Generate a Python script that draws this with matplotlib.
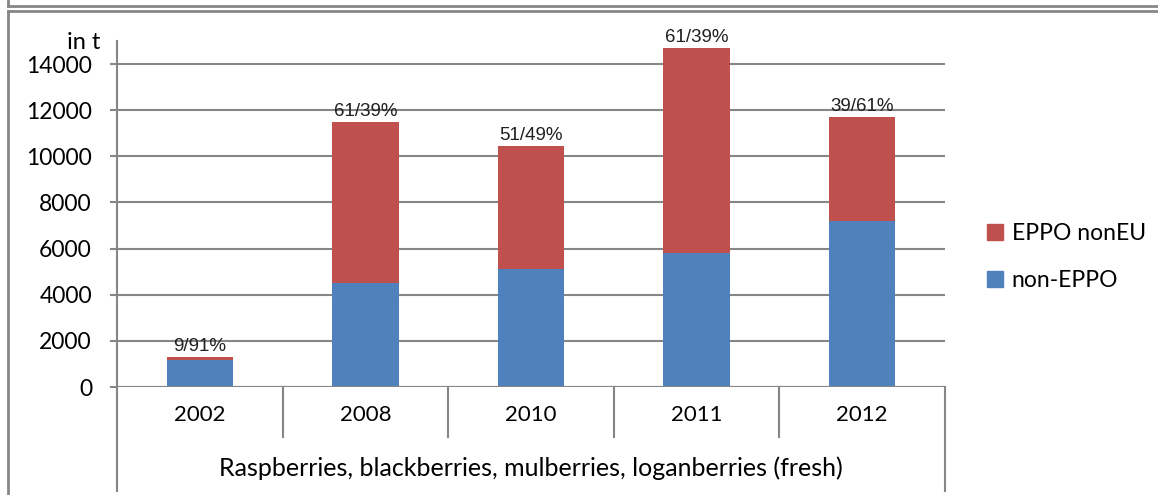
import matplotlib
matplotlib.use("Agg")
import matplotlib.pyplot as plt
from matplotlib.lines import Line2D
from matplotlib.patches import Patch
import matplotlib.transforms as mtransforms

# data (tonnes)
years = ["2002", "2008", "2010", "2011", "2012"]
non_eppo = [1190, 4500, 5100, 5800, 7200]
eppo_noneu = [120, 7000, 5350, 8880, 4500]
shares = ["9/91%", "61/39%", "51/49%", "61/39%", "39/61%"]
group_label = "Raspberries, blackberries, mulberries, loganberries (fresh)"

blue = "#4F81BD"
red = "#C0504D"
grey = "#868686"
W, H = 1158, 495

plt.rcParams['font.family'] = ['Lato', 'DejaVu Sans']

fig = plt.figure(figsize=(W / 100, H / 100), dpi=100)
ax = fig.add_axes([117 / W, 1 - 387 / H, (945 - 117) / W, (387 - 41) / H])

x = list(range(len(years)))
ax.bar(x, non_eppo, width=0.4, color=blue, zorder=3, label="non-EPPO")
ax.bar(x, eppo_noneu, width=0.4, bottom=non_eppo, color=red, zorder=3, label="EPPO nonEU")

for i in x:
    top = non_eppo[i] + eppo_noneu[i]
    ax.annotate(shares[i], (i, top), xytext=(0, 1.5), textcoords="offset points",
                ha="center", va="bottom", fontsize=13.5,
                family=['Liberation Sans', 'DejaVu Sans'], color="#202020")

ax.set_xlim(-0.5, 4.5)
ax.set_ylim(0, 15000)
ax.set_yticks(range(0, 15000, 2000))
ax.yaxis.grid(True, color=grey, linewidth=1.5, zorder=0)
ax.tick_params(axis="y", length=5, width=1.5, color=grey, labelsize=16.5, pad=13)
ax.tick_params(axis="x", bottom=False, labelbottom=False)
for s in ["top", "right", "bottom"]:
    ax.spines[s].set_visible(False)
ax.spines["left"].set_color(grey)
ax.spines["left"].set_linewidth(1.5)
ax.axhline(0, color=grey, linewidth=1.5, zorder=4)

trans = mtransforms.blended_transform_factory(ax.transData, ax.transAxes)
ax.text(-0.603, 0.995, "in t", transform=trans, ha="right", va="center", fontsize=17)

# two-level category axis
for b in [0.5, 1.5, 2.5, 3.5]:
    ax.add_line(Line2D([b, b], [0, -0.1445], transform=trans, color=grey, linewidth=1.5, clip_on=False))
for b in [-0.5, 4.5]:
    ax.add_line(Line2D([b, b], [0, -0.30], transform=trans, color=grey, linewidth=1.5, clip_on=False))
for i, y in enumerate(years):
    ax.text(i, -0.081, y, transform=trans, ha="center", va="center", fontsize=16)
ax.text(2, -0.234, group_label, transform=trans, ha="center", va="center", fontsize=18)

handles = [Patch(color=red), Patch(color=blue)]
fig.legend(handles, ["EPPO nonEU", "non-EPPO"], loc="center left",
           bbox_to_anchor=(966 / W, 1 - 257 / H), frameon=False, fontsize=16.5,
           handlelength=0.7, handleheight=0.7, handletextpad=0.4, labelspacing=1.15)

# outer frame lines
fig.add_artist(Line2D([8 / W, 1], [1 - 6 / H] * 2, color=grey, linewidth=2))
fig.add_artist(Line2D([8 / W] * 2, [1, 1 - 6 / H], color=grey, linewidth=2))
fig.add_artist(Line2D([8 / W, 1], [1 - 11 / H] * 2, color=grey, linewidth=2))
fig.add_artist(Line2D([8 / W] * 2, [0, 1 - 11 / H], color=grey, linewidth=2))

fig.savefig("out.png", dpi=100)
